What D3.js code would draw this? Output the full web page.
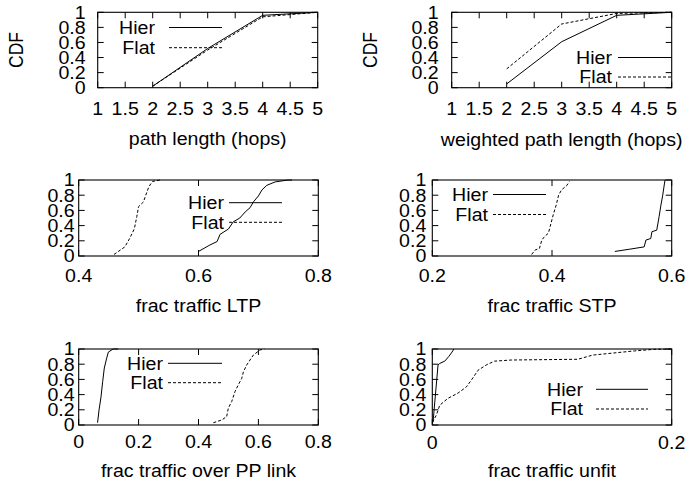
<!DOCTYPE html>
<html><head><meta charset="utf-8">
<script src="https://cdn.jsdelivr.net/npm/d3@7"></script>
<style>html,body{margin:0;padding:0;background:#fff;} svg{display:block}</style>
</head><body>
<svg id="c" width="689" height="487"></svg>
<script>
// ---------- data ----------
const seriesNames = ["Hier", "Flat"];
const cdfTicks = [0, 0.2, 0.4, 0.6, 0.8, 1];
const hopTicks = [1, 1.5, 2, 2.5, 3, 3.5, 4, 4.5, 5];
const ltpTicks = [0.4, 0.6, 0.8];
const stpTicks = [0.2, 0.4, 0.6];
const ppTicks = [0, 0.2, 0.4, 0.6, 0.8];
const unfitTicks = [0, 0.2];
const xTitles = ["path length (hops)", "weighted path length (hops)", "frac traffic LTP",
                 "frac traffic STP", "frac traffic over PP link", "frac traffic unfit"];
const yTitle = "CDF";

const hopsX = [2, 3, 4, 5];
const pathHierY = [0.02, 0.52, 0.96, 1];
const pathFlatY = [0.02, 0.50, 0.94, 1];
const wpathHierY = [0.05, 0.61, 0.96, 1];
const wpathFlatY = [0.25, 0.845, 0.985, 1];

const ltpHierX = [0.600, 0.600, 0.619, 0.631, 0.636, 0.650, 0.658, 0.669, 0.678, 0.686, 0.692, 0.700, 0.706, 0.714, 0.728, 0.748, 0.756];
const ltpHierY = [0.00, 0.06, 0.145, 0.19, 0.285, 0.355, 0.45, 0.50, 0.58, 0.635, 0.715, 0.79, 0.87, 0.93, 0.975, 0.998, 1.0];
const ltpFlatX = [0.459, 0.477, 0.485, 0.493, 0.497, 0.500, 0.508, 0.512, 0.517, 0.523, 0.536];
const ltpFlatY = [0.02, 0.12, 0.23, 0.36, 0.52, 0.65, 0.71, 0.80, 0.91, 0.98, 1.0];

const stpHierX = [0.505, 0.530, 0.554, 0.557, 0.565, 0.567, 0.575, 0.579, 0.582, 0.585, 0.588, 0.589];
const stpHierY = [0.06, 0.09, 0.12, 0.21, 0.23, 0.32, 0.34, 0.52, 0.67, 0.80, 0.96, 1.0];
const stpFlatX = [0.366, 0.372, 0.379, 0.383, 0.388, 0.394, 0.397, 0.402, 0.407, 0.411, 0.416, 0.425, 0.429];
const stpFlatY = [0.02, 0.08, 0.10, 0.21, 0.26, 0.30, 0.39, 0.54, 0.67, 0.80, 0.87, 0.93, 0.98];

const ppHierX = [0.063, 0.068, 0.0745, 0.080, 0.0855, 0.0935, 0.099, 0.115, 0.132];
const ppHierY = [0.03, 0.20, 0.37, 0.57, 0.75, 0.88, 0.96, 1.0, 1.0];
const ppFlatX = [0.4495, 0.4775, 0.494, 0.4995, 0.511, 0.522, 0.533, 0.544, 0.550, 0.561, 0.572, 0.583, 0.605, 0.620];
const ppFlatY = [0.03, 0.066, 0.11, 0.22, 0.31, 0.44, 0.53, 0.61, 0.70, 0.79, 0.855, 0.92, 0.987, 1.0];

const unfitHierX = [0.0006, 0.0015, 0.0048, 0.0062, 0.0104, 0.0137, 0.0165, 0.018];
const unfitHierY = [0.035, 0.20, 0.79, 0.81, 0.84, 0.90, 0.96, 1.0];
const unfitFlatX = [0, 0.0034, 0.0062, 0.013, 0.0215, 0.0284, 0.0326, 0.0382, 0.0451, 0.052, 0.066, 0.1217, 0.134, 0.169, 0.185, 0.2];
const unfitFlatY = [0.035, 0.13, 0.26, 0.35, 0.42, 0.50, 0.59, 0.72, 0.79, 0.84, 0.855, 0.865, 0.92, 0.975, 0.995, 1.0];

// ---------- layout ----------
const FONT = "'Liberation Sans', Arial, Helvetica, sans-serif";
const FS = 17.5, SX = 1.12, TICK = 6;
const dashes = [null, "3,2"];

const panels = [
  {f:[97.7,317.7,12.3,87.7], dom:[1,5], ticks:hopTicks, s:[[hopsX,pathHierY],[hopsX,pathFlatY]],
   title:xTitles[0], titleY:145, tlY:114.7, gap:12, cdfX:22.5, leg:[155,169,222,27.5,47.7]},
  {f:[451.7,671.7,12.3,87.7], dom:[1,5], ticks:hopTicks, s:[[hopsX,wpathHierY],[hopsX,wpathFlatY]],
   title:xTitles[1], titleY:145.5, tlY:114.7, gap:13, cdfX:377, leg:[612,618,671,57.5,77]},
  {f:[78.7,318.3,180,256], dom:[0.4,0.8], ticks:ltpTicks, s:[[ltpHierX,ltpHierY],[ltpFlatX,ltpFlatY]],
   title:xTitles[2], titleY:311.5, tlY:281.7, gap:4, leg:[224,229,282,202.7,222.3]},
  {f:[432.3,671.7,180,256], dom:[0.2,0.6], ticks:stpTicks, s:[[stpHierX,stpHierY],[stpFlatX,stpFlatY]],
   title:xTitles[3], titleY:311.5, tlY:281.7, gap:6, leg:[488,493,546,194.5,214.5]},
  {f:[78.7,318.3,349,425], dom:[0,0.8], ticks:ppTicks, s:[[ppHierX,ppHierY],[ppFlatX,ppFlatY]],
   title:xTitles[4], titleY:476.5, tlY:448.3, gap:4, leg:[163,168,222,363.3,382.7]},
  {f:[432.3,671.7,349,425], dom:[0,0.2], ticks:unfitTicks, s:[[unfitHierX,unfitHierY],[unfitFlatX,unfitFlatY]],
   title:xTitles[5], titleY:477, tlY:448.8, gap:6, leg:[583,596,648,389.3,409]}
];

const svg = d3.select("#c");
svg.append("rect").attr("width",689).attr("height",487).attr("fill","#fff");

function txt(g, s, x, y, anchor, rot) {
  return g.append("text")
    .attr("transform", `translate(${x},${y}) scale(${SX},1)` + (rot ? " rotate(-90)" : ""))
    .attr("text-anchor", anchor)
    .attr("font-family", FONT).attr("font-size", FS).attr("fill", "#000")
    .text(s);
}
const fmt = d => String(d);

panels.forEach(p => {
  const [x0, x1, y0, y1] = p.f;
  const g = svg.append("g");
  const x = d3.scaleLinear().domain(p.dom).range([x0, x1]);
  const y = d3.scaleLinear().domain([0, 1]).range([y1, y0]);

  // ticks (inward, mirrored)
  const tk = g.append("g").attr("stroke", "#000").attr("stroke-width", 1);
  p.ticks.forEach(v => {
    const xx = x(v);
    tk.append("line").attr("x1", xx).attr("x2", xx).attr("y1", y1).attr("y2", y1 - TICK);
    tk.append("line").attr("x1", xx).attr("x2", xx).attr("y1", y0).attr("y2", y0 + TICK);
    txt(g, fmt(v), xx, p.tlY, "middle");
  });
  cdfTicks.forEach(v => {
    const yy = y(v);
    tk.append("line").attr("x1", x0).attr("x2", x0 + TICK).attr("y1", yy).attr("y2", yy);
    tk.append("line").attr("x1", x1).attr("x2", x1 - TICK).attr("y1", yy).attr("y2", yy);
    txt(g, fmt(v), x0 - p.gap, yy + 6.4, "end");
  });

  // curves
  const line = d3.line().x(d => x(d[0])).y(d => y(d[1]));
  p.s.forEach((sr, i) => {
    const pts = sr[0].map((xv, k) => [xv, sr[1][k]]);
    g.append("path").datum(pts).attr("d", line)
      .attr("fill", "none").attr("stroke", "#000").attr("stroke-width", 1)
      .attr("stroke-dasharray", dashes[i]);
  });

  // frame
  g.append("rect").attr("x", x0).attr("y", y0).attr("width", x1 - x0).attr("height", y1 - y0)
    .attr("fill", "none").attr("stroke", "#000").attr("stroke-width", 1.1);

  // legend
  const [te, lx1, lx2, ly1, ly2] = p.leg;
  [ly1, ly2].forEach((ly, i) => {
    txt(g, seriesNames[i], te, ly + 6.3, "end");
    g.append("line").attr("x1", lx1).attr("x2", lx2).attr("y1", ly).attr("y2", ly)
      .attr("stroke", "#000").attr("stroke-width", 1).attr("stroke-dasharray", dashes[i]);
  });

  // titles
  txt(g, p.title, (x0 + x1) / 2, p.titleY, "middle");
  if (p.cdfX !== undefined) txt(g, yTitle, p.cdfX, (y0 + y1) / 2, "middle", true);
});
</script>
</body></html>
